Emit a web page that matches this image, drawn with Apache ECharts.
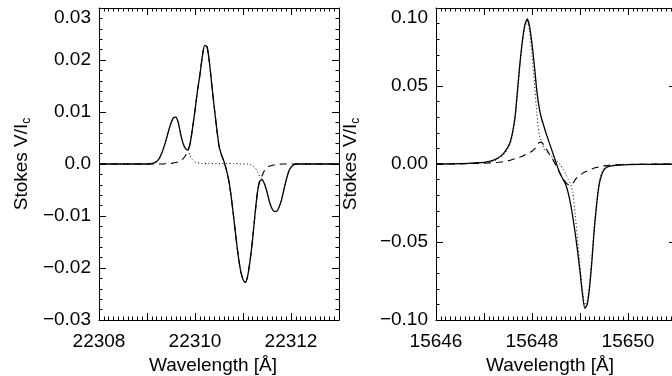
<!DOCTYPE html>
<html>
<head>
<meta charset="utf-8">
<script src="https://cdn.jsdelivr.net/npm/echarts@6/dist/echarts.min.js"></script>
<style>
  html, body { margin: 0; padding: 0; background: #fff; }
  #chart { width: 672px; height: 376px; }
</style>
</head>
<body>
<div id="chart"></div>
<script>
// left panel: 22310 A line
const leftWave = [22308.00, 22308.50, 22309.00, 22309.05, 22309.10, 22309.15, 22309.20, 22309.25, 22309.30, 22309.35,
  22309.40, 22309.45, 22309.50, 22309.55, 22309.60, 22309.65, 22309.70, 22309.75, 22309.80, 22309.85,
  22309.90, 22309.95, 22310.00, 22310.05, 22310.10, 22310.15, 22310.20, 22310.25, 22310.30, 22310.35,
  22310.40, 22310.45, 22310.50, 22310.55, 22310.60, 22310.65, 22310.70, 22310.75, 22310.80, 22310.85,
  22310.90, 22310.95, 22311.00, 22311.05, 22311.10, 22311.15, 22311.20, 22311.25, 22311.30, 22311.35,
  22311.40, 22311.45, 22311.50, 22311.55, 22311.60, 22311.65, 22311.70, 22311.75, 22311.80, 22311.85,
  22311.90, 22311.95, 22312.00, 22312.05, 22312.10, 22312.15, 22312.20, 22312.50, 22313.00];
const leftTotal = [0, 0, 0, 0, 0.0001, 0.0002, 0.0005, 0.0010, 0.0019, 0.0032,
  0.0047, 0.0064, 0.0079, 0.0089, 0.0090, 0.0080, 0.0058, 0.0040, 0.0030, 0.0027,
  0.0040, 0.0070, 0.0103, 0.0140, 0.0170, 0.0205, 0.0228, 0.0226, 0.0196, 0.0152,
  0.0110, 0.0070, 0.0035, 0.0018, 0.0006, -0.0010, -0.0030, -0.0060, -0.0098, -0.0138,
  -0.0176, -0.0205, -0.0222, -0.0228, -0.0214, -0.0184, -0.0145, -0.0097, -0.0055, -0.0033,
  -0.0030, -0.0039, -0.0054, -0.0072, -0.0085, -0.0091, -0.0091, -0.0083, -0.0070, -0.0050,
  -0.0031, -0.0015, -0.0006, -0.0002, 0, 0, 0, 0, 0];
const leftDashed = [0, 0, 0, 0, 0, 0, 0, 0, 0, 0,
  0.0001, 0.0001, 0.0001, 0.0002, 0.0003, 0.0004, 0.0006, 0.0010, 0.0016, 0.0025,
  0.0040, 0.0070, 0.0103, 0.0140, 0.0170, 0.0205, 0.0228, 0.0226, 0.0196, 0.0152,
  0.0110, 0.0070, 0.0035, 0.0018, 0.0006, -0.0010, -0.0030, -0.0060, -0.0098, -0.0138,
  -0.0176, -0.0205, -0.0222, -0.0228, -0.0214, -0.0184, -0.0145, -0.0097, -0.0055, -0.0030,
  -0.0022, -0.0012, -0.0007, -0.0004, -0.0003, -0.0002, -0.0001, -0.0001, 0, 0,
  0, 0, 0, 0, 0, 0, 0, 0, 0];
const leftDotted = [0, 0, 0, 0, 0.0001, 0.0002, 0.0005, 0.0010, 0.0019, 0.0032,
  0.0047, 0.0064, 0.0079, 0.0089, 0.0090, 0.0080, 0.0058, 0.0040, 0.0030, 0.0027,
  0.0016, 0.0008, 0.0004, 0.0002, 0.0002, 0.0001, 0.0001, 0.0001, 0.0001, 0.0001,
  0.0001, 0.0001, 0.0001, 0.0001, 0.0001, 0.0001, 0.0001, 0.0001, 0.0001, 0.0001,
  0.0001, 0, 0, 0, 0, -0.0001, -0.0003, -0.0007, -0.0014, -0.0024,
  -0.0030, -0.0039, -0.0054, -0.0072, -0.0085, -0.0091, -0.0091, -0.0083, -0.0070, -0.0050,
  -0.0031, -0.0015, -0.0006, -0.0002, 0, 0, 0, 0, 0];

// right panel: 15648 A line
const rightWave = [15646.00, 15646.50, 15647.00, 15647.20, 15647.30, 15647.40, 15647.45, 15647.50, 15647.55, 15647.60,
  15647.65, 15647.70, 15647.75, 15647.80, 15647.85, 15647.90, 15647.95, 15648.00, 15648.05, 15648.10,
  15648.15, 15648.20, 15648.25, 15648.30, 15648.35, 15648.40, 15648.45, 15648.50, 15648.55, 15648.60,
  15648.65, 15648.70, 15648.75, 15648.80, 15648.85, 15648.90, 15648.95, 15649.00, 15649.05, 15649.10,
  15649.15, 15649.20, 15649.25, 15649.30, 15649.35, 15649.40, 15649.45, 15649.50, 15649.55, 15649.60,
  15649.70, 15649.80, 15650.00, 15650.50, 15651.00];
const rightTotal = [0, 0.0003, 0.0011, 0.0025, 0.0040, 0.0065, 0.0085, 0.0110, 0.0145, 0.0210,
  0.0310, 0.0480, 0.0650, 0.0790, 0.0890, 0.0930, 0.0880, 0.0770, 0.0630, 0.0470,
  0.0360, 0.0290, 0.0240, 0.0190, 0.0145, 0.0100, 0.0055, 0.0010, -0.0035, -0.0070,
  -0.0100, -0.0130, -0.0180, -0.0250, -0.0340, -0.0444, -0.0560, -0.0690, -0.0830, -0.0925,
  -0.0900, -0.0790, -0.0615, -0.0410, -0.0250, -0.0130, -0.0070, -0.0038, -0.0022, -0.0015,
  -0.0010, -0.0007, -0.0004, -0.0002, -0.0001];
const rightDashed = [0, 0.0001, 0.0005, 0.0008, 0.0011, 0.0015, 0.0018, 0.0021, 0.0024, 0.0030,
  0.0034, 0.0040, 0.0045, 0.0050, 0.0058, 0.0066, 0.0073, 0.0082, 0.0095, 0.0115,
  0.0138, 0.0140, 0.0120, 0.0095, 0.0070, 0.0045, 0.0020, -0.0010, -0.0040, -0.0070,
  -0.0095, -0.0118, -0.0132, -0.0136, -0.0125, -0.0100, -0.0082, -0.0070, -0.0060, -0.0052,
  -0.0045, -0.0038, -0.0032, -0.0026, -0.0022, -0.0018, -0.0015, -0.0012, -0.0010, -0.0008,
  -0.0006, -0.0005, -0.0003, -0.0001, 0];
const rightDotted = [0, 0.0002, 0.0008, 0.0020, 0.0033, 0.0056, 0.0075, 0.0099, 0.0133, 0.0197,
  0.0295, 0.0465, 0.0635, 0.0775, 0.0875, 0.0915, 0.0850, 0.0700, 0.0520, 0.0330,
  0.0190, 0.0135, 0.0100, 0.0078, 0.0062, 0.0050, 0.0038, 0.0025, 0.0010, -0.0008,
  -0.0035, -0.0065, -0.0095, -0.0125, -0.0180, -0.0320, -0.0490, -0.0650, -0.0810, -0.0905,
  -0.0880, -0.0760, -0.0585, -0.0385, -0.0230, -0.0115, -0.0057, -0.0028, -0.0016, -0.0010,
  -0.0006, -0.0004, -0.0002, -0.0001, 0];

const FONT = 'Liberation Sans';
const pair = (xs, ys) => xs.map((x, i) => [x, ys[i]]);
const minus = s => s.replace('-', '\u2212');

function xAxes(gridIndex, min, max) {
  const common = {
    type: 'value', gridIndex: gridIndex, min: min, max: max, interval: 1,
    axisLine: { show: true, onZero: false, lineStyle: { color: '#000', width: 1 } },
    axisTick: { show: true, inside: true, length: 7, lineStyle: { color: '#000' } },
    minorTick: { show: true, splitNumber: 10, length: 3.5, lineStyle: { color: '#000' } },
    splitLine: { show: false }
  };
  return [
    Object.assign({}, common, {
      position: 'bottom',
      name: 'Wavelength [Å]', nameLocation: 'middle', nameGap: 34,
      nameTextStyle: { fontFamily: FONT, fontSize: 19, color: '#000', padding: [0, 12, 0, 0] },
      axisLabel: {
        fontFamily: FONT, fontSize: 19, color: '#000', margin: 12,
        formatter: v => (Math.round(v) % 2 === 0 ? String(Math.round(v)) : '')
      }
    }),
    Object.assign({}, common, { position: 'top', axisLabel: { show: false } })
  ];
}

function yAxes(gridIndex, lim, step, fmt, gap) {
  const common = {
    type: 'value', gridIndex: gridIndex, min: -lim, max: lim, interval: step,
    axisLine: { show: true, onZero: false, lineStyle: { color: '#000', width: 1 } },
    axisTick: { show: true, inside: true, length: 7, lineStyle: { color: '#000' } },
    minorTick: { show: true, splitNumber: 5, length: 3.5, lineStyle: { color: '#000' } },
    splitLine: { show: false }
  };
  return [
    Object.assign({}, common, {
      position: 'left',
      name: 'Stokes V/I{s|c}', nameLocation: 'middle', nameGap: gap,
      nameTextStyle: {
        fontFamily: FONT, fontSize: 19, color: '#000',
        rich: { s: { fontFamily: FONT, fontSize: 12, color: '#000', padding: [10, 0, 0, 0] } }
      },
      axisLabel: {
        fontFamily: FONT, fontSize: 19, color: '#000', margin: 8, formatter: fmt,
        verticalAlignMaxLabel: 'top'
      }
    }),
    Object.assign({}, common, { position: 'right', axisLabel: { show: false } })
  ];
}

function lines(axisIndex, xs, total, dashed, dotted) {
  const base = { type: 'line', xAxisIndex: axisIndex, yAxisIndex: axisIndex, showSymbol: false, smooth: 0.2, silent: true };
  return [
    Object.assign({}, base, { data: pair(xs, total), lineStyle: { color: '#000', width: 1.3 } }),
    Object.assign({}, base, { data: pair(xs, dashed), lineStyle: { color: '#000', width: 1.1, type: [7, 5] } }),
    Object.assign({}, base, { data: pair(xs, dotted), lineStyle: { color: '#000', width: 1, type: [1, 2.5] } })
  ];
}

const leftFmt = v => (Math.abs(v) < 1e-9 ? '0.0' : minus(v.toFixed(2)));
const rightFmt = v => (Math.abs(v) < 1e-9 ? '0.00' : minus(v.toFixed(2)));

const chart = echarts.init(document.getElementById('chart'), null, { renderer: 'canvas' });
chart.setOption({
  animation: false,
  backgroundColor: '#fff',
  grid: [
    { left: 99, top: 8, width: 240, height: 312, outerBoundsMode: 'none', containLabel: false },
    { left: 436, top: 8, width: 240, height: 312, outerBoundsMode: 'none', containLabel: false }
  ],
  xAxis: [].concat(xAxes(0, 22308, 22313), xAxes(1, 15646, 15651)),
  yAxis: [].concat(yAxes(0, 0.03, 0.01, leftFmt, 66), yAxes(1, 0.1, 0.05, rightFmt, 74)),
  series: [].concat(
    lines(0, leftWave, leftTotal, leftDashed, leftDotted),
    lines(2, rightWave, rightTotal, rightDashed, rightDotted)
  )
});
</script>
</body>
</html>
